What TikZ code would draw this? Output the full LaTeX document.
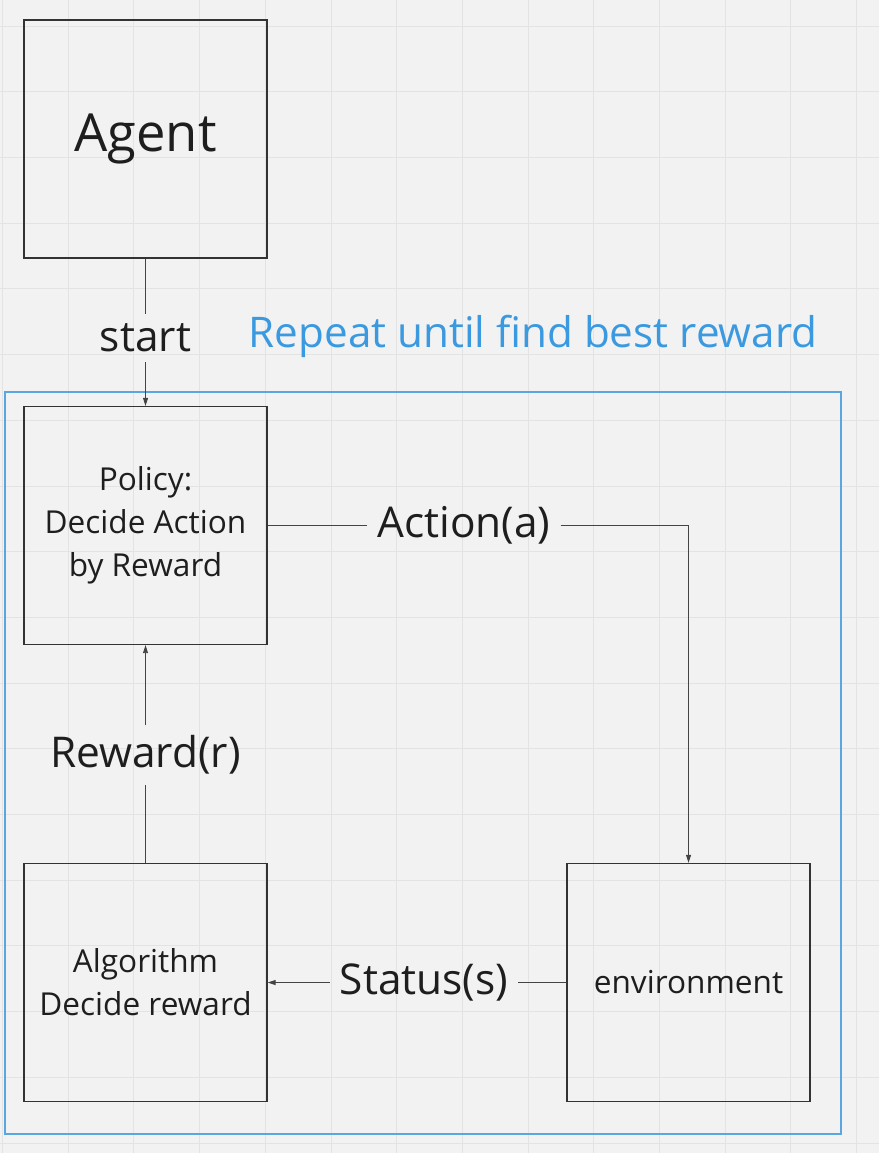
\documentclass[tikz,border=0pt]{standalone}
\usepackage{fontspec}
\setmainfont{Open Sans}
\usetikzlibrary{arrows.meta}
\definecolor{bgc}{HTML}{F2F2F2}
\definecolor{gridc}{HTML}{E3E3E3}
\definecolor{boxc}{HTML}{333333}
\definecolor{connc}{HTML}{444444}
\definecolor{bluec}{HTML}{3B99E0}
\definecolor{framec}{HTML}{5AA6E0}
\definecolor{txtc}{HTML}{1E1E1E}
\tikzset{
  box/.style={draw=boxc, line width=1.3pt, rectangle, minimum width=243pt, minimum height=238pt, inner sep=0pt, align=center, text=txtc, font=\fontsize{31.6}{43}\selectfont},
  conn/.style={draw=connc, line width=0.9pt},
  arr/.style={conn, -{Triangle[length=8pt,width=5pt]}},
  lab/.style={text=txtc, inner xsep=10pt, inner ysep=10pt, font=\fontsize{42.4}{50}\selectfont},
}
\begin{document}
\begin{tikzpicture}[x=1pt,y=-1pt]
\fill[bgc] (0,0) rectangle (879,1153);
\useasboundingbox (0,0) rectangle (879,1153);
% grid
\foreach \i in {0,...,13} {
  \draw[gridc, line width=0.8pt] ({2.4+65.7*\i},0) -- ({2.4+65.7*\i},1153);
}
\foreach \j in {0,...,17} {
  \draw[gridc, line width=0.8pt] (0,{26+65.7*\j}) -- (879,{26+65.7*\j});
}
% frame
\draw[framec, line width=1.3pt] (5,392) rectangle (841,1134);
\node[anchor=base west, text=bluec, inner sep=0pt, font=\fontsize{42.2}{50}\selectfont] (repeat) at (248.5,347.7) {Repeat until find best reward};
% boxes
\node[box, font=\fontsize{52.5}{60}\selectfont] (agent) at (145.5,139) {Agent};
\node[box] (policy) at (145.5,525.5) {Policy:\\Decide Action\\by Reward};
\node[box] (alg) at (145.5,982.5) {Algorithm\\Decide reward};
\node[box] (env) at (688.5,982.5) {environment};
% labels
\node[lab] (startlab) at (145.5,338) {start};
\node[lab] (actlab) at (464,525.5) {Action(a)};
\node[lab] (rewlab) at (145.5,755) {Reward(r)};
\node[lab] (statlab) at (424,982.5) {Status(s)};
% connectors
\draw[conn] (agent.south) -- (agent.south |- startlab.north);
\draw[arr] (policy.north |- startlab.south) -- (policy.north);
\draw[conn] (policy.east) -- (policy.east -| actlab.west);
\draw[arr] (policy.east -| actlab.east) -| (env.north);
\draw[conn] (alg.north) -- (alg.north |- rewlab.south);
\draw[arr] (policy.south |- rewlab.north) -- (policy.south);
\draw[conn] (env.west) -- (env.west -| statlab.east);
\draw[arr] (alg.east -| statlab.west) -- (alg.east);
\end{tikzpicture}
\end{document}
